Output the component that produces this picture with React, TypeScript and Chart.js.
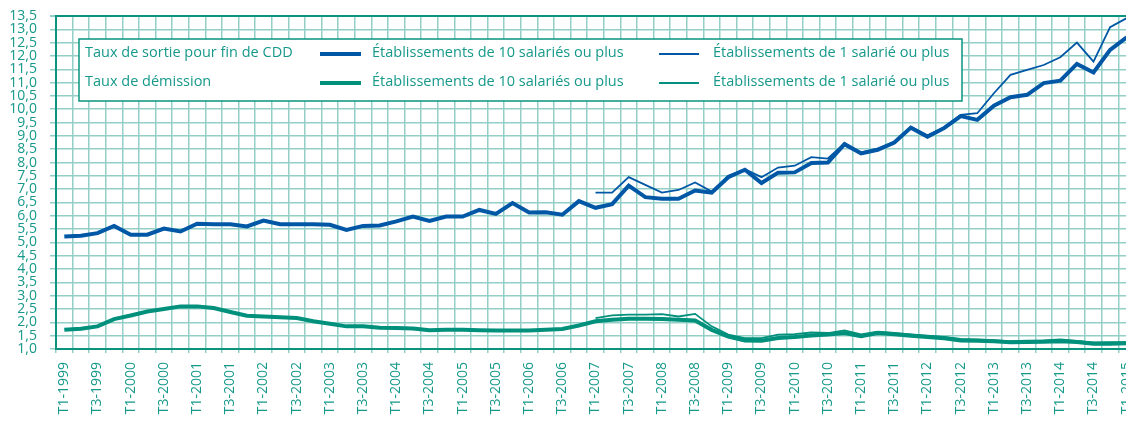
import { useEffect, useRef } from "react";
import { Chart, registerables } from "chart.js";

Chart.register(...registerables);

// ---- categories ----
const years = [1999, 2000, 2001, 2002, 2003, 2004, 2005, 2006, 2007, 2008, 2009, 2010, 2011, 2012, 2013, 2014, 2015];
const quarterNames = ["T1", "T2", "T3", "T4"];
const quarters: string[] = [];
years.forEach((y) => quarterNames.forEach((q) => quarters.push(`${q}-${y}`)));
const categories = quarters.slice(0, 65); // T1-1999 ... T1-2015

// ---- series ----
const cddDix = [
  5.22, 5.25, 5.35, 5.62, 5.29, 5.29, 5.52, 5.41, 5.70, 5.68, 5.68, 5.60, 5.82, 5.68, 5.68, 5.68,
  5.66, 5.47, 5.62, 5.64, 5.79, 5.97, 5.81, 5.97, 5.97, 6.22, 6.07, 6.48, 6.12, 6.13, 6.04, 6.55,
  6.30, 6.44, 7.13, 6.70, 6.64, 6.64, 6.95, 6.87, 7.45, 7.73, 7.23, 7.62, 7.63, 7.98, 8.00, 8.69,
  8.34, 8.48, 8.75, 9.31, 8.97, 9.29, 9.74, 9.60, 10.13, 10.45, 10.54, 10.98, 11.07, 11.70, 11.38, 12.23,
  12.70,
];
const cddUn = [
  null, null, null, null, null, null, null, null, null, null, null, null, null, null, null, null,
  null, null, null, null, null, null, null, null, null, null, null, null, null, null, null, null,
  6.87, 6.87, 7.45, 7.16, 6.87, 6.97, 7.25, 6.91, 7.50, 7.75, 7.45, 7.81, 7.88, 8.20, 8.15, 8.72,
  8.38, 8.52, 8.78, 9.34, 9.02, 9.33, 9.79, 9.85, 10.60, 11.29, 11.48, 11.66, 11.95, 12.50, 11.79, 13.08,
  13.42,
];
const demDix = [
  1.72, 1.76, 1.85, 2.12, 2.26, 2.41, 2.50, 2.60, 2.60, 2.54, 2.39, 2.25, 2.22, 2.19, 2.16, 2.04,
  1.95, 1.85, 1.85, 1.80, 1.79, 1.77, 1.70, 1.72, 1.72, 1.70, 1.69, 1.69, 1.69, 1.72, 1.75, 1.88,
  2.04, 2.10, 2.14, 2.14, 2.13, 2.10, 2.07, 1.72, 1.47, 1.32, 1.31, 1.41, 1.45, 1.51, 1.54, 1.60,
  1.48, 1.60, 1.55, 1.50, 1.45, 1.40, 1.32, 1.31, 1.29, 1.25, 1.26, 1.27, 1.29, 1.26, 1.20, 1.20,
  1.22,
];
const demUn = [
  null, null, null, null, null, null, null, null, null, null, null, null, null, null, null, null,
  null, null, null, null, null, null, null, null, null, null, null, null, null, null, null, null,
  2.16, 2.26, 2.29, 2.29, 2.31, 2.22, 2.32, 1.85, 1.54, 1.41, 1.41, 1.54, 1.56, 1.62, 1.60, 1.70,
  1.55, 1.65, 1.60, 1.55, 1.50, 1.45, 1.38, 1.36, 1.33, 1.29, 1.31, 1.32, 1.36, 1.30, 1.25, 1.26,
  1.26,
];

// ---- texts ----
const groupLabels = ["Taux de sortie pour fin de CDD", "Taux de démission"];
const labelDix = "Établissements de 10 salariés ou plus";
const labelUn = "Établissements de 1 salarié ou plus";

// ---- styles ----
const BLUE = "#0057a6";
const GREEN = "#00907b";
const TEXT = "#16998a";
const AXIS = "#0a9480";
const GRID = "#93cfc6";
const FONT = "'Open Sans', sans-serif";

const legendPlugin = {
  id: "boxLegend",
  afterDatasetsDraw(chart: any) {
    const ctx = chart.ctx as CanvasRenderingContext2D;
    const { left, top } = chart.chartArea;
    const ds = chart.data.datasets;
    const bx = left + 23;
    const by = top + 23;
    const bw = 883;
    const bh = 62;
    ctx.save();
    ctx.fillStyle = "#ffffff";
    ctx.fillRect(bx, by, bw, bh);
    ctx.strokeStyle = AXIS;
    ctx.lineWidth = 1.5;
    ctx.strokeRect(bx, by, bw, bh);
    ctx.font = `14.5px ${FONT}`;
    ctx.textBaseline = "middle";
    ctx.fillStyle = TEXT;
    const rows = [
      { y: by + 14, thick: ds[0], thin: ds[1], group: groupLabels[0] },
      { y: by + 43, thick: ds[2], thin: ds[3], group: groupLabels[1] },
    ];
    rows.forEach((r) => {
      ctx.fillStyle = TEXT;
      ctx.fillText(r.group, bx + 6, r.y);
      // thick sample
      ctx.strokeStyle = r.thick.borderColor;
      ctx.lineWidth = r.thick.borderWidth;
      ctx.beginPath();
      ctx.moveTo(bx + 241, r.y + 1);
      ctx.lineTo(bx + 282, r.y + 1);
      ctx.stroke();
      ctx.fillText(r.thick.label, bx + 293, r.y);
      // thin sample
      ctx.strokeStyle = r.thin.borderColor;
      ctx.lineWidth = r.thin.borderWidth;
      ctx.beginPath();
      ctx.moveTo(bx + 580, r.y + 1);
      ctx.lineTo(bx + 620, r.y + 1);
      ctx.stroke();
      ctx.fillText(r.thin.label, bx + 634, r.y);
    });
    ctx.restore();
  },
};

export default function App() {
  const ref = useRef<HTMLCanvasElement>(null);

  useEffect(() => {
    const canvas = ref.current;
    if (!canvas) return;
    const chart = new Chart(canvas, {
      type: "line",
      data: {
        labels: categories,
        datasets: [
          { label: labelDix, data: cddDix, borderColor: BLUE, borderWidth: 4, order: 2 },
          { label: labelUn, data: cddUn, borderColor: BLUE, borderWidth: 1.8, order: 1 },
          { label: labelDix, data: demDix, borderColor: GREEN, borderWidth: 4, order: 2 },
          { label: labelUn, data: demUn, borderColor: GREEN, borderWidth: 1.8, order: 1 },
        ].map((d) => ({
          ...d,
          pointRadius: 0,
          pointHoverRadius: 0,
          tension: 0,
          fill: false,
          spanGaps: false,
          borderJoinStyle: "miter" as const,
        })),
      },
      options: {
        responsive: false,
        maintainAspectRatio: false,
        animation: false,
        devicePixelRatio: 1,
        layout: { padding: { top: 16, left: 0, right: 0, bottom: 0 } },
        plugins: {
          legend: { display: false },
          tooltip: { enabled: false },
        },
        scales: {
          x: {
            type: "category",
            offset: true,
            grid: {
              offset: true,
              color: GRID,
              lineWidth: 1.5,
              tickLength: 4,
              tickColor: GRID,
            },
            border: { color: AXIS, width: 2 },
            ticks: {
              autoSkip: false,
              maxRotation: 90,
              minRotation: 90,
              padding: 9,
              color: TEXT,
              font: { family: FONT, size: 14 },
              callback: (_v: any, i: number) => (i % 2 === 0 ? categories[i] : ""),
            },
            afterFit: (s: any) => {
              s.height = 73;
              s.paddingLeft = 0;
              s.paddingRight = 0;
            },
          },
          y: {
            type: "linear",
            min: 1,
            max: 13.5,
            grid: {
              color: (c: any) => (c.tick && c.tick.value === 13.5 ? AXIS : GRID),
              lineWidth: (c: any) => (c.tick && c.tick.value === 13.5 ? 2 : 1.5),
              tickLength: 6,
              tickColor: GRID,
            },
            border: { color: AXIS, width: 2 },
            ticks: {
              stepSize: 0.5,
              autoSkip: false,
              padding: 13,
              color: TEXT,
              font: { family: FONT, size: 14 },
              callback: (v: any) => Number(v).toFixed(1).replace(".", ","),
            },
            afterFit: (s: any) => {
              s.width = 56;
              s.paddingTop = 0;
              s.paddingBottom = 0;
            },
          },
        },
      },
      plugins: [legendPlugin],
    });
    return () => chart.destroy();
  }, []);

  return (
    <div
      style={{
        position: "absolute",
        left: 0,
        top: 0,
        width: 1126,
        height: 422,
        overflow: "hidden",
        background: "#ffffff",
      }}
    >
      <canvas ref={ref} width={1135} height={422} style={{ display: "block", width: 1135, height: 422 }} />
    </div>
  );
}
